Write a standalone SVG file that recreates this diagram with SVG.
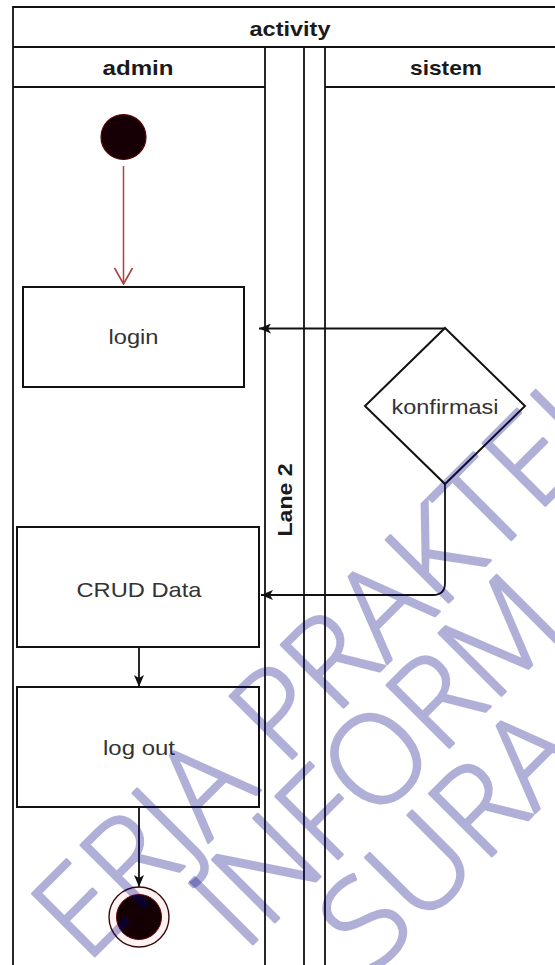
<svg xmlns="http://www.w3.org/2000/svg" width="555" height="965" viewBox="0 0 555 965">
  <style>
    .ln { stroke: #111; stroke-width: 1.8; fill: none; }
    .box { stroke: #111; stroke-width: 2; fill: #fff; }
    .hdr { font-family: "Liberation Sans", Arial, sans-serif; font-weight: bold; font-size: 21px; fill: #1a1a1a; }
    .lbl { font-family: "Liberation Sans", Arial, sans-serif; font-size: 21px; fill: #333; }
    .wm { font-family: "Open Sans", "DejaVu Sans", sans-serif; font-weight: 300; font-size: 124px; fill: #000080; stroke: #000080; stroke-width: 2.6; stroke-linejoin: round; opacity: 0.31; }
  </style>
  <defs>
    <marker id="classic" viewBox="0 0 12 10" refX="12" refY="5" markerWidth="12" markerHeight="10" markerUnits="userSpaceOnUse" orient="auto">
      <path d="M0,0 L12,5 L0,10 L3,5 Z" fill="#111"/>
    </marker>
    <marker id="open" viewBox="0 0 18 20" refX="17" refY="10" markerWidth="18" markerHeight="20" markerUnits="userSpaceOnUse" orient="auto">
      <path d="M1,1 L17,10 L1,19" fill="none" stroke="#b0413e" stroke-width="1.6"/>
    </marker>
  </defs>
  <rect width="555" height="965" fill="#fff"/>

  <g id="pool">
    <path class="ln" d="M13,965 V7 H556 M13,47 H556 M13,87 H265 M325,87 H556 M265,47 V965 M304,47 V965 M325,47 V965"/>
    <text class="hdr" x="290" y="36" text-anchor="middle" textLength="81" lengthAdjust="spacingAndGlyphs">activity</text>
  </g>
  <g id="lane-admin">
    <text class="hdr" x="138" y="75" text-anchor="middle" textLength="71" lengthAdjust="spacingAndGlyphs">admin</text>
  </g>
  <g id="lane-2">
    <text class="hdr" transform="translate(292,500) rotate(-90)" text-anchor="middle" textLength="73" lengthAdjust="spacingAndGlyphs">Lane 2</text>
  </g>
  <g id="lane-sistem">
    <text class="hdr" x="446" y="75" text-anchor="middle" textLength="72" lengthAdjust="spacingAndGlyphs">sistem</text>
  </g>

  <g id="connectors">
    <line x1="123.5" y1="166" x2="123.5" y2="284" stroke="#b0413e" stroke-width="1.5" marker-end="url(#open)"/>
    <path class="ln" d="M445,328.5 H259" marker-end="url(#classic)"/>
    <path class="ln" d="M445,484 V583 Q445,595 433,595 H261" marker-end="url(#classic)"/>
    <path class="ln" d="M139,647 V687" stroke-width="2.2" marker-end="url(#classic)"/>
    <path class="ln" d="M139,807 V887" marker-end="url(#classic)"/>
  </g>

  <g id="start">
    <circle cx="123.5" cy="137" r="22.5" fill="#160006" stroke="#5a0000" stroke-width="1.2"/>
  </g>
  <g id="login">
    <rect class="box" x="23" y="287" width="221" height="100"/>
    <text class="lbl" x="133.5" y="344" text-anchor="middle" textLength="50" lengthAdjust="spacingAndGlyphs">login</text>
  </g>
  <g id="konfirmasi">
    <path class="box" d="M445,328 L525,406 L445,484 L365,406 Z" stroke-width="1.6"/>
    <text class="lbl" x="445" y="414" text-anchor="middle" textLength="107" lengthAdjust="spacingAndGlyphs">konfirmasi</text>
  </g>
  <g id="crud">
    <rect class="box" x="17" y="527" width="242" height="120"/>
    <text class="lbl" x="139" y="597" text-anchor="middle" textLength="125" lengthAdjust="spacingAndGlyphs">CRUD Data</text>
  </g>
  <g id="logout">
    <rect class="box" x="17" y="687" width="242" height="120"/>
    <text class="lbl" x="139" y="755" text-anchor="middle" textLength="72" lengthAdjust="spacingAndGlyphs">log out</text>
  </g>
  <g id="end">
    <circle cx="139" cy="917" r="30" fill="#fff2f2" stroke="#3a0a0a" stroke-width="1.4"/>
    <circle cx="139" cy="917" r="22.5" fill="#140004" stroke="#6a0000" stroke-width="1"/>
  </g>

  <g id="watermark">
    <text class="wm" transform="translate(86,965) rotate(-45)">ERJA PRAKTEK</text>
    <text class="wm" transform="translate(244,953) rotate(-45)">INFORM</text>
    <text class="wm" transform="translate(372,976) rotate(-45)">SURA</text>
  </g>
</svg>
